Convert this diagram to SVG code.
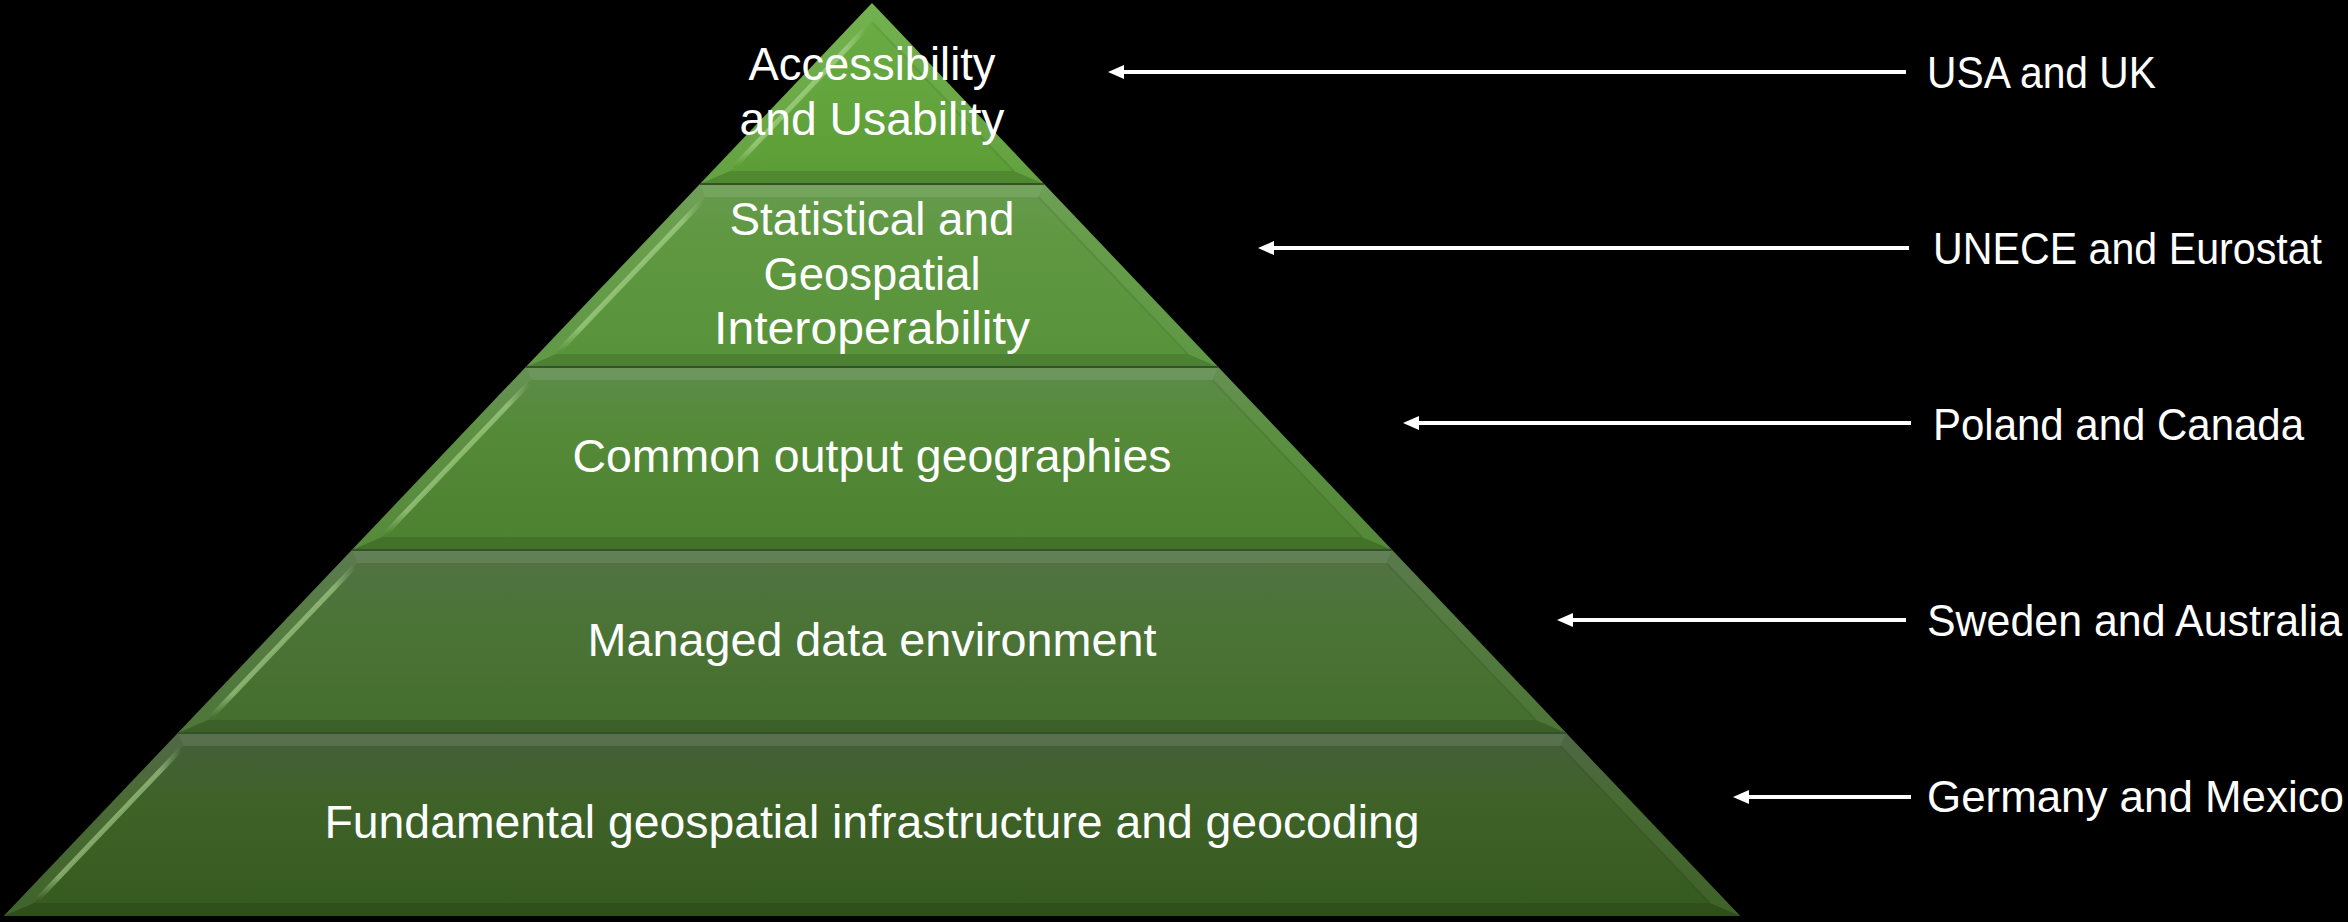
<svg xmlns="http://www.w3.org/2000/svg" width="2348" height="922" viewBox="0 0 2348 922">
<defs>
<linearGradient id="g1" x1="0" y1="0" x2="0" y2="1"><stop offset="0" stop-color="#6cae45"/><stop offset="1" stop-color="#5b9c36"/></linearGradient>
<linearGradient id="g2" x1="0" y1="0" x2="0" y2="1"><stop offset="0" stop-color="#679a4e"/><stop offset="0.3" stop-color="#5f9841"/><stop offset="1" stop-color="#57923a"/></linearGradient>
<linearGradient id="g3" x1="0" y1="0" x2="0" y2="1"><stop offset="0" stop-color="#5d8b4a"/><stop offset="0.35" stop-color="#548a38"/><stop offset="1" stop-color="#4c822e"/></linearGradient>
<linearGradient id="g4" x1="0" y1="0" x2="0" y2="1"><stop offset="0" stop-color="#527244"/><stop offset="0.35" stop-color="#4c7438"/><stop offset="1" stop-color="#446e2c"/></linearGradient>
<linearGradient id="g5" x1="0" y1="0" x2="0" y2="1"><stop offset="0" stop-color="#465f3b"/><stop offset="0.35" stop-color="#3f6229"/><stop offset="1" stop-color="#355a1e"/></linearGradient>
<linearGradient id="hl" x1="0" y1="1" x2="1" y2="0"><stop offset="0" stop-color="#b6e09a" stop-opacity="0"/><stop offset="0.15" stop-color="#b6e09a" stop-opacity="0.55"/><stop offset="0.85" stop-color="#b6e09a" stop-opacity="0.55"/><stop offset="1" stop-color="#b6e09a" stop-opacity="0"/></linearGradient>
<marker id="ah" markerUnits="userSpaceOnUse" markerWidth="16" markerHeight="14" refX="6" refY="7" orient="auto"><path d="M0,0 L16,7 L0,14 z" fill="#ffffff"/></marker>
</defs>
<style>
.bt{fill:#ffffff;fill-opacity:.10}
.bl{fill:#ffffff;fill-opacity:.06}
.br{fill:#ffffff;fill-opacity:.05}
.bb{fill:#000000;fill-opacity:.12}
.hl{stroke:url(#hl);stroke-width:5;stroke-linecap:round;fill:none}
.il{stroke:#000000;stroke-opacity:.08;stroke-width:2;fill:none}
.sep{stroke:#34522a;stroke-width:2}
.t{font-family:"Liberation Sans",Arial,sans-serif;fill:#ffffff;font-size:46px;text-anchor:middle}
.lab{font-family:"Liberation Sans",Arial,sans-serif;fill:#ffffff;font-size:44px}
.arr{stroke:#ffffff;stroke-width:4;fill:none;marker-end:url(#ah)}
</style>
<rect x="0" y="0" width="2348" height="922" fill="#000000"/>

<g id="layer1">
<polygon points="872,3 1044.1,184 699.9,184" fill="url(#g1)"/>
<polygon class="bl" points="872,3 699.9,184 730.2,171 872,22"/>
<polygon class="br" points="872,3 872,22 1013.8,171 1044.1,184"/>
<polygon class="bb" points="699.9,184 730.2,171 1013.8,171 1044.1,184"/>
<line class="hl" x1="735" y1="166" x2="866" y2="28"/>
<polyline class="il" points="872,22 1013.8,171"/>
<text class="t" x="872" y="80" textLength="247" lengthAdjust="spacingAndGlyphs">Accessibility</text>
<text class="t" x="872" y="135" textLength="265" lengthAdjust="spacingAndGlyphs">and Usability</text>
</g>

<g id="layer2">
<polygon points="699.9,184 1044.1,184 1218.2,367 525.8,367" fill="url(#g2)"/>
<polygon class="bt" points="699.9,184 1044.1,184 1038.5,197 705.5,197"/>
<polygon class="bl" points="699.9,184 705.5,197 556.2,354 525.8,367"/>
<polygon class="br" points="1044.1,184 1218.2,367 1187.8,354 1038.5,197"/>
<polygon class="bb" points="525.8,367 556.2,354 1187.8,354 1218.2,367"/>
<line class="hl" x1="703" y1="200" x2="559" y2="351"/>
<polyline class="il" points="1038.5,197 1187.8,354"/>
<text class="t" x="872" y="235" textLength="285" lengthAdjust="spacingAndGlyphs">Statistical and</text>
<text class="t" x="872" y="290" textLength="217" lengthAdjust="spacingAndGlyphs">Geospatial</text>
<text class="t" x="872" y="344" textLength="316" lengthAdjust="spacingAndGlyphs">Interoperability</text>
</g>

<g id="layer3">
<polygon points="525.8,367 1218.2,367 1392.2,550 351.8,550" fill="url(#g3)"/>
<polygon class="bt" points="525.8,367 1218.2,367 1212.5,380 531.5,380"/>
<polygon class="bl" points="525.8,367 531.5,380 382.2,537 351.8,550"/>
<polygon class="br" points="1218.2,367 1392.2,550 1361.8,537 1212.5,380"/>
<polygon class="bb" points="351.8,550 382.2,537 1361.8,537 1392.2,550"/>
<line class="hl" x1="529" y1="383" x2="385" y2="534"/>
<polyline class="il" points="1212.5,380 1361.8,537"/>
<text class="t" x="872" y="472" textLength="599" lengthAdjust="spacingAndGlyphs">Common output geographies</text>
</g>

<g id="layer4">
<polygon points="351.8,550 1392.2,550 1566.2,733 177.8,733" fill="url(#g4)"/>
<polygon class="bt" points="351.8,550 1392.2,550 1386.6,563 357.4,563"/>
<polygon class="bl" points="351.8,550 357.4,563 208.1,720 177.8,733"/>
<polygon class="br" points="1392.2,550 1566.2,733 1535.9,720 1386.6,563"/>
<polygon class="bb" points="177.8,733 208.1,720 1535.9,720 1566.2,733"/>
<line class="hl" x1="355" y1="566" x2="211" y2="717"/>
<polyline class="il" points="1386.6,563 1535.9,720"/>
<text class="t" x="872" y="656" textLength="569" lengthAdjust="spacingAndGlyphs">Managed data environment</text>
</g>

<g id="layer5">
<polygon points="177.8,733 1566.2,733 1740.3,916 3.7,916" fill="url(#g5)"/>
<polygon class="bt" points="177.8,733 1566.2,733 1560.6,746 183.4,746"/>
<polygon class="bl" points="177.8,733 183.4,746 34.1,903 3.7,916"/>
<polygon class="br" points="1566.2,733 1740.3,916 1709.9,903 1560.6,746"/>
<polygon class="bb" points="3.7,916 34.1,903 1709.9,903 1740.3,916"/>
<line class="hl" x1="181" y1="749" x2="37" y2="900"/>
<polyline class="il" points="1560.6,746 1709.9,903"/>
<text class="t" x="872" y="838" textLength="1095" lengthAdjust="spacingAndGlyphs">Fundamental geospatial infrastructure and geocoding</text>
</g>

<g id="separators">
<line class="sep" x1="699.9" y1="184" x2="1044.1" y2="184"/>
<line class="sep" x1="525.8" y1="367" x2="1218.2" y2="367"/>
<line class="sep" x1="351.8" y1="550" x2="1392.2" y2="550"/>
<line class="sep" x1="177.8" y1="733" x2="1566.2" y2="733"/>
</g>

<g id="connectors">
<line class="arr" x1="1906" y1="72" x2="1118" y2="72"/>
<line class="arr" x1="1909" y1="248" x2="1268" y2="248"/>
<line class="arr" x1="1911" y1="423" x2="1413" y2="423"/>
<line class="arr" x1="1906" y1="620" x2="1567" y2="620"/>
<line class="arr" x1="1911" y1="797" x2="1743" y2="797"/>
</g>

<g id="label-usa"><text class="lab" x="1927" y="88" textLength="229" lengthAdjust="spacingAndGlyphs">USA and UK</text></g>
<g id="label-unece"><text class="lab" x="1933" y="264" textLength="389" lengthAdjust="spacingAndGlyphs">UNECE and Eurostat</text></g>
<g id="label-poland"><text class="lab" x="1933" y="440" textLength="371" lengthAdjust="spacingAndGlyphs">Poland and Canada</text></g>
<g id="label-sweden"><text class="lab" x="1927" y="636" textLength="415" lengthAdjust="spacingAndGlyphs">Sweden and Australia</text></g>
<g id="label-germany"><text class="lab" x="1927" y="812" textLength="417" lengthAdjust="spacingAndGlyphs">Germany and Mexico</text></g>
</svg>
